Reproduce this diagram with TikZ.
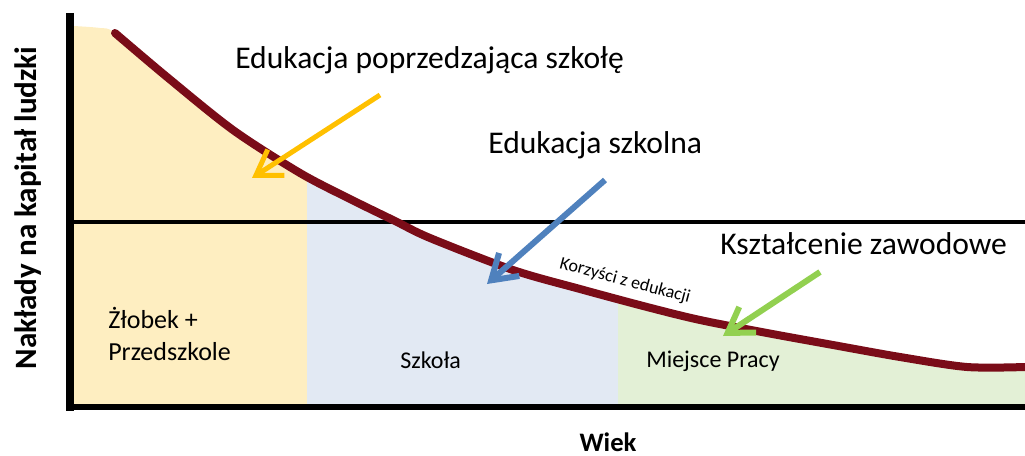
\documentclass[tikz,border=0pt]{standalone}
\usepackage{fontspec}
\setmainfont{Carlito}
\usetikzlibrary{arrows.meta}
\definecolor{fillY}{HTML}{FEEEC1}
\definecolor{fillB}{HTML}{E2E9F3}
\definecolor{fillG}{HTML}{E3F0D6}
\definecolor{curveR}{HTML}{7A0C18}
\definecolor{arrY}{HTML}{FFC000}
\definecolor{arrB}{HTML}{4F81BD}
\definecolor{arrG}{HTML}{92D050}
\tikzset{
  curveline/.style={draw=curveR, line width=6pt, line cap=round, line join=round},
  axisline/.style={draw=black, line width=6pt},
  midline/.style={draw=black, line width=2.6pt},
  callout/.style={line width=#1, -{Straight Barb[length=18pt,width=23pt]}},
  bigtext/.style={anchor=base west, inner sep=0pt, font=\fontsize{23.7}{28}\selectfont},
  zonetext/.style={anchor=base west, inner sep=0pt, font=\fontsize{18}{22}\selectfont},
  axistext/.style={inner sep=0pt, font=\bfseries\fontsize{23.3}{27}\selectfont},
}
\begin{document}
\begin{tikzpicture}[x=0.75pt,y=-0.75pt]
\useasboundingbox (0,0) rectangle (1025,456);
% zone fills
\foreach \xa/\xb/\col in {73/307/fillY,307/618/fillB,618/1025/fillG}{
  \begin{scope}
    \clip (\xa,0) rectangle (\xb,405);
    \fill[\col] (73,405) -- plot[smooth] coordinates {(73,26) (100,28) (115,33) (167,77) (233,130) (300,173) (350,199) (395,221) (430,238) (513,270) (580,289) (647,307) (700,320) (767,333) (833,345) (900,357) (967,367) (1025,367)} -- (1025,405) -- cycle;
  \end{scope}
}
% axes
\coordinate (ytop) at (70,13);
\coordinate (ybot) at (70,411);
\coordinate (xl) at (66,407);
\coordinate (xr) at (1025,407);
\coordinate (ml) at (70,222);
\coordinate (mr) at (1025,222);
\draw[midline] (ml) -- (mr);
\draw[axisline] (ytop) -- (ybot);
\draw[axisline, line width=4.5pt] (xl) -- (xr);
% curve
\draw[curveline] plot[smooth] coordinates {(115,33) (167,77) (233,130) (300,173) (350,199) (395,221) (430,238) (513,270) (580,289) (647,307) (700,320) (767,333) (833,345) (900,357) (967,367) (1025,367)};
% texts
\node[bigtext] (t1) at (235,69) {Edukacja poprzedzająca szkołę};
\node[bigtext] (t2) at (488,154) {Edukacja szkolna};
\node[bigtext] (t3) at (720,255) {Kształcenie zawodowe};
\node[anchor=base west, inner sep=0pt, font=\fontsize{19.5}{24}\selectfont] (z1) at (108,328) {Żłobek +};
\node[anchor=base west, inner sep=0pt, font=\fontsize{19.5}{24}\selectfont] (z2) at (108,360) {Przedszkole};
\node[zonetext] (sz) at (400,368) {Szkoła};
\node[zonetext] (mp) at (646,367) {Miejsce Pracy};
\node[rotate=-15, inner sep=0pt, font=\fontsize{13.5}{16}\selectfont] (kz) at (625,281) {Korzyści z edukacji};
\node[axistext, rotate=90] (yl) at (28,208) {Nakłady na kapitał ludzki};
\node[axistext, font=\bfseries\fontsize{20}{24}\selectfont] (xlab) at (608,442) {Wiek};
% arrows
\coordinate (ya) at (380,95);
\coordinate (yb) at (252,178);
\coordinate (ba) at (605,180);
\coordinate (bb) at (487,284);
\coordinate (ga) at (820,272);
\coordinate (gb) at (723,336);
\draw[callout=3.75pt, arrY] (ya) -- (yb);
\draw[callout=4.5pt, arrB] (ba) -- (bb);
\draw[callout=4.5pt, arrG] (ga) -- (gb);
\end{tikzpicture}
\end{document}
